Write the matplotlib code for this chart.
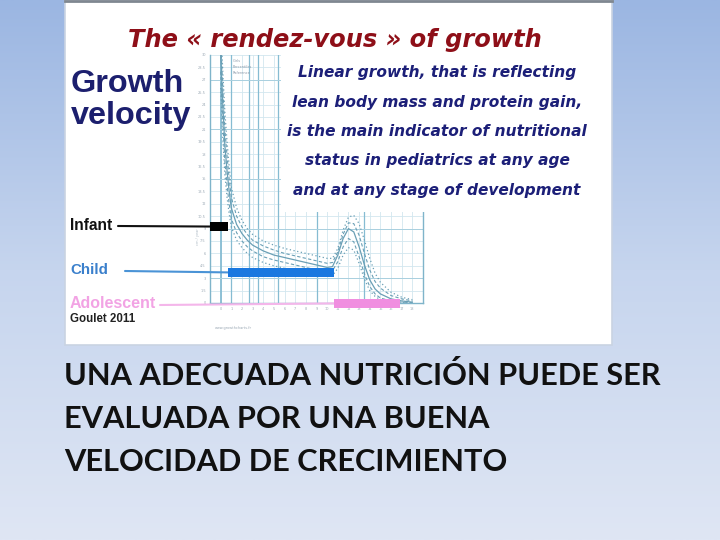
import matplotlib
matplotlib.use("Agg")
import matplotlib.pyplot as plt
import numpy as np
from matplotlib.colors import LinearSegmentedColormap
from matplotlib.patches import Rectangle

# ---------------- data ----------------
ages = [0.0, 0.2, 0.4, 0.6, 0.8, 1.0, 1.5, 2, 2.5, 3, 4, 5, 6, 7, 8, 9, 10,
        10.5, 11, 11.5, 12, 12.5, 13, 13.5, 14, 14.5, 15, 16, 17, 18]
p97 = [34, 28, 23, 19.5, 16.5, 14, 11.5, 10, 9.0, 8.3, 7.5, 7.0, 6.6, 6.3, 6.0, 5.7, 5.4,
       5.4, 6.6, 8.8, 10.4, 10.6, 9.6, 7.6, 5.4, 3.6, 2.5, 1.3, 0.7, 0.4]
p90 = [32, 26, 21, 17.8, 15, 12.8, 10.5, 9.2, 8.3, 7.6, 6.9, 6.4, 6.0, 5.7, 5.4, 5.1, 4.8,
       4.9, 6.2, 8.3, 9.7, 9.6, 8.2, 6.0, 4.0, 2.6, 1.8, 0.9, 0.5, 0.25]
p50 = [30, 24, 19, 16, 13.5, 11.5, 9.5, 8.4, 7.6, 7.0, 6.3, 5.8, 5.5, 5.2, 4.9, 4.6, 4.3,
       4.4, 5.8, 7.8, 9.0, 8.6, 6.8, 4.6, 2.8, 1.7, 1.1, 0.5, 0.25, 0.1]
p10 = [28, 22, 17, 14.2, 12, 10.2, 8.5, 7.5, 6.8, 6.3, 5.6, 5.2, 4.9, 4.6, 4.3, 4.0, 3.8,
       3.9, 5.0, 6.8, 7.8, 7.4, 5.6, 3.5, 2.0, 1.1, 0.6, 0.25, 0.1, 0.05]
p3 = [26, 20, 15.5, 12.8, 10.8, 9.2, 7.6, 6.7, 6.0, 5.5, 4.9, 4.5, 4.2, 3.9, 3.6, 3.4, 3.2,
      3.3, 4.2, 5.8, 6.7, 6.4, 4.8, 2.9, 1.5, 0.8, 0.4, 0.15, 0.05, 0.0]

stages = ["Infant", "Child", "Adolescent"]
stage_start = [-1.0, 0.7, 10.6]
stage_end = [0.7, 10.6, 16.8]
stage_level = [9.25, 3.7, -0.05]

major_x = [0, 1, 2.7, 3.5, 5.4, 9, 13.5]
x_ticks = list(range(0, 19))
y_ticks = list(np.arange(0, 30.1, 1.5))

title = "The « rendez-vous » of growth"
side_title = ["Growth", "velocity"]
statement = ["Linear growth, that is reflecting",
             "lean body mass and protein gain,",
             "is the main indicator of nutritional",
             "status in pediatrics at any age",
             "and at any stage of development"]
caption = ["UNA ADECUADA NUTRICIÓN PUEDE SER",
           "EVALUADA POR UNA BUENA",
           "VELOCIDAD DE CRECIMIENTO"]

# ---------------- figure ----------------
fig = plt.figure(figsize=(7.2, 5.4), dpi=100)
renderer = fig.canvas.get_renderer()

def fit(t, target):
    w = t.get_window_extent(renderer).width
    t.set_fontsize(t.get_fontsize() * target / w)

# background slide
ax0 = fig.add_axes([0, 0, 1, 1])
ax0.set_xlim(0, 720)
ax0.set_ylim(540, 0)
ax0.axis("off")
cmap = LinearSegmentedColormap.from_list("bg", ["#9bb6e2", "#c6d5ee", "#dfe6f4"])
grad = np.linspace(0, 1, 256).reshape(-1, 1)
ax0.imshow(grad, extent=[0, 720, 540, 0], aspect="auto", cmap=cmap, zorder=0)
ax0.add_patch(Rectangle((65, 0), 547, 345, facecolor="white", edgecolor="#c9d3e2",
                        lw=1.2, zorder=1))
ax0.plot([65, 612], [1, 1], color="#7f8790", lw=2, zorder=2)

# chart
L, R, T, B = 210, 423, 55, 303
ax1 = fig.add_axes([L / 720, 1 - B / 540, (R - L) / 720, (B - T) / 540])
ax1.set_xlim(-1, 19)
ax1.set_ylim(0, 30)
ax1.set_facecolor("white")
ax1.set_xticks(x_ticks)
ax1.set_yticks(y_ticks)
ax1.set_xticklabels([str(v) for v in x_ticks])
ax1.set_yticklabels([f"{v:g}" for v in y_ticks])
ax1.tick_params(length=0, labelsize=2.5, colors="#9aa8b4", pad=3)
ax1.grid(True, color="#d2e7ef", lw=0.6)
for xv in major_x:
    ax1.axvline(xv, color="#86bcd2", lw=1.3 if xv == 0 else 0.9)
for yv in [3, 9, 15, 21, 27]:
    ax1.axhline(yv, color="#a9d0df", lw=0.7)
for s in ["top"]:
    ax1.spines[s].set_visible(False)
for s in ["left", "bottom", "right"]:
    ax1.spines[s].set_color("#7fb4ca")
    ax1.spines[s].set_linewidth(1.0)

col = "#6a9fb5"
ax1.plot(ages, p97, color=col, lw=0.9, ls=(0, (1, 2)))
ax1.plot(ages, p90, color=col, lw=0.8, ls=(0, (3, 2)))
ax1.plot(ages, p50, color=col, lw=0.9, ls="-")
ax1.plot(ages, p10, color=col, lw=0.8, ls=(0, (3, 2)))
ax1.plot(ages, p3, color=col, lw=0.9, ls=(0, (1, 2)))

ax1.text(1.1, 29.5, "Girls\nPercentiles\nReference", fontsize=2.5, color="#8a98a8",
         va="top", linespacing=1.6)
ax1.text(-0.5, -3.2, "www.growthcharts.fr", fontsize=2.5, color="#9aa8b4")
ax1.text(-2.3, 8, "cm / year", fontsize=2.5, color="#b0bcc6", rotation=90, va="center")

stage_colors = ["#000000", "#1a78e0", "#f08ee0"]
bar_h = [1.0, 1.15, 1.1]
for s0, s1, lv, c, h in zip(stage_start, stage_end, stage_level, stage_colors, bar_h):
    ax1.barh([lv], [s1 - s0], left=[s0], height=h, color=c, clip_on=False, zorder=5)

# overlay
ax2 = fig.add_axes([0, 0, 1, 1])
ax2.set_xlim(0, 720)
ax2.set_ylim(540, 0)
ax2.axis("off")
ax2.patch.set_alpha(0)
ax2.add_patch(Rectangle((281, 45), 328, 167, facecolor="white", edgecolor="none", zorder=1))

t = ax2.text(335, 40, title, ha="center", va="center", color="#8e0f18",
             fontsize=15, fontweight="bold", fontstyle="italic",
             family="DejaVu Sans", zorder=3)
fit(t, 415)

for i, line in enumerate(side_title):
    t = ax2.text(71, 84 + 32 * i, line, ha="left", va="center", color="#1c1f6e",
                 fontsize=20, fontweight="bold", family="Liberation Sans", zorder=3)
    if i == 0:
        fit(t, 113)
        gsize = t.get_fontsize()
    else:
        t.set_fontsize(gsize)

ys = [72, 102, 131, 161, 191]
sz = None
for i, (line, y) in enumerate(zip(statement, ys)):
    t = ax2.text(437, y, line, ha="center", va="center", color="#1c1f78",
                 fontsize=9.5, fontweight="bold", fontstyle="italic",
                 family="DejaVu Sans", zorder=3)
    if i == 0:
        fit(t, 278)
        sz = t.get_fontsize()
    else:
        t.set_fontsize(sz)

label_y = [225, 270, 304]
label_col = ["#111111", "#3b80cc", "#f2a3e4"]
line_x0 = [118, 125, 160]
label_w = [42, 38, 86]
for name, y, c, w in zip(stages, label_y, label_col, label_w):
    t = ax2.text(70, y, name, ha="left", va="center", color=c, fontsize=10,
                 fontweight="bold", family="Liberation Sans", zorder=3)
    fit(t, w)
line_col = ["#111111", "#4a93d6", "#f4b6ea"]
for s0, lv, c, x0, y in zip(stage_start, stage_level, line_col, line_x0, label_y):
    ax1.annotate("", xy=(s0, lv), xycoords="data", xytext=(x0, y + 1),
                 textcoords=ax2.transData,
                 arrowprops=dict(arrowstyle="-", color=c, lw=1.5,
                                 shrinkA=0, shrinkB=0), zorder=4)
t = ax2.text(70, 319, "Goulet 2011", ha="left", va="center", color="#222222",
             fontsize=7, fontweight="bold", family="Liberation Sans", zorder=3)
fit(t, 65)

for i, line in enumerate(caption):
    t = ax2.text(64, 385 + 43 * i, line, ha="left", va="baseline", color="#111111",
                 fontsize=21, fontweight="bold", family="Lato", zorder=3)
    if i == 0:
        fit(t, 598)
        csz = t.get_fontsize()
    else:
        t.set_fontsize(csz)

fig.savefig("out.png", dpi=100)
